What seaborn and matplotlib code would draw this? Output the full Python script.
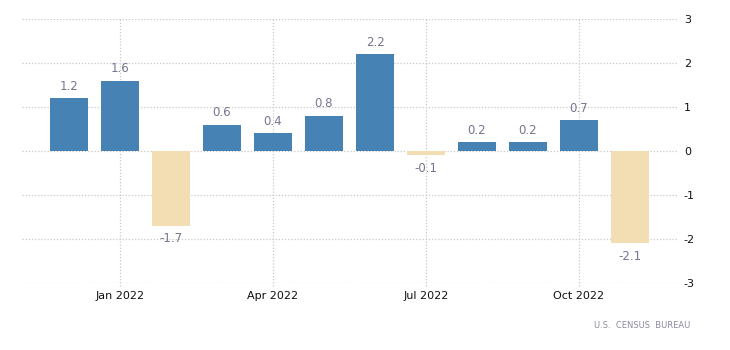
import matplotlib
matplotlib.use("Agg")
import matplotlib.pyplot as plt
import seaborn as sns
import pandas as pd

months = ["Dec 2021", "Jan 2022", "Feb 2022", "Mar 2022", "Apr 2022", "May 2022",
          "Jun 2022", "Jul 2022", "Aug 2022", "Sep 2022", "Oct 2022", "Nov 2022"]
values = [1.2, 1.6, -1.7, 0.6, 0.4, 0.8, 2.2, -0.1, 0.2, 0.2, 0.7, -2.1]
tick_months = ["Jan 2022", "Apr 2022", "Jul 2022", "Oct 2022"]
y_ticks = [-3, -2, -1, 0, 1, 2, 3]
source = "U.S.  CENSUS  BUREAU"

df = pd.DataFrame({"month": months, "value": values})
df["sign"] = ["pos" if v >= 0 else "neg" for v in values]

sns.set_style("white")
fig = plt.figure(figsize=(7.3, 3.5), dpi=100)
ax = fig.add_axes([22 / 730, 1 - 283 / 350, (677 - 22) / 730, 264 / 350])

sns.barplot(data=df, x="month", y="value", hue="sign",
            palette={"pos": "#4682B4", "neg": "#F3DDB2"},
            dodge=False, width=0.74, legend=False, ax=ax, saturation=1,
            linewidth=0)

ax.set_xlim(-0.92, 11.92)
ax.set_ylim(-3, 3)
ax.set_xlabel("")
ax.set_ylabel("")

for s in ax.spines.values():
    s.set_visible(False)

# horizontal grid
for y in y_ticks:
    ax.axhline(y, color="#c8c8c8", lw=0.9, ls=(0, (1, 1.5)), zorder=0)

# vertical grid at ticks
tick_pos = [months.index(m) for m in tick_months]
for p in tick_pos:
    ax.axvline(p, color="#c8c8c8", lw=0.9, ls=(0, (1, 1.5)), zorder=0, ymin=-0.01, clip_on=False)

ax.set_xticks(tick_pos)
ax.set_xticklabels(tick_months, fontsize=8, color="#111111")
ax.tick_params(axis="x", length=0, pad=6)

ax.yaxis.tick_right()
ax.set_yticks(y_ticks)
ax.set_yticklabels([str(t) for t in y_ticks], fontsize=8, color="#111111")
ax.tick_params(axis="y", length=0, pad=5)

for i, v in enumerate(values):
    off = 0.27 if v >= 0 else -0.29
    ax.text(i, v + off, f"{v:.1f}", ha="center", va="center",
            fontsize=8.5, color="#75758f")

fig.text(690 / 730, 1 - 325 / 350, source, ha="right", va="center",
         fontsize=6, color="#8a8aa0")

fig.savefig("out.png", dpi=100)
